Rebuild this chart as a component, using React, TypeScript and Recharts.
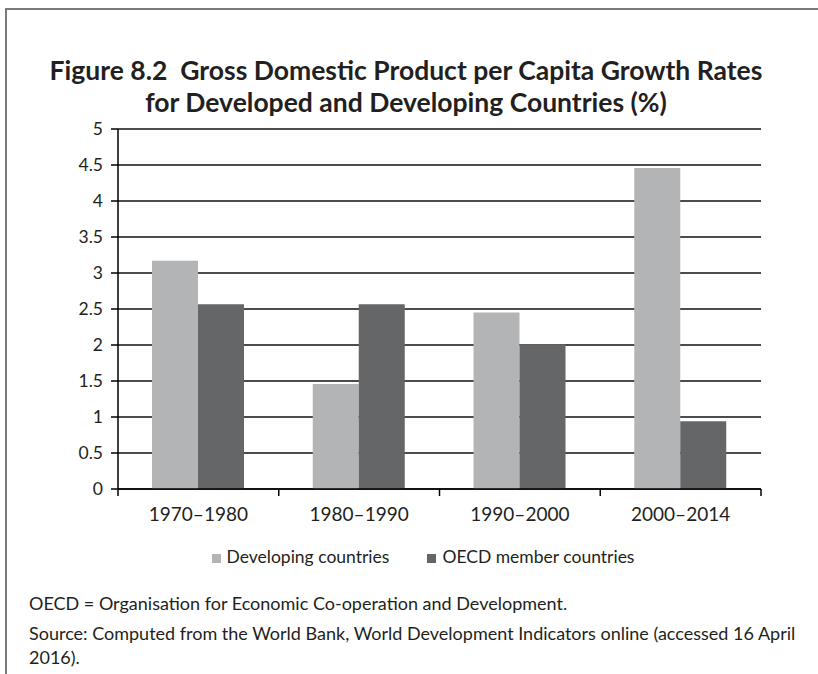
import React from "react";
import { BarChart, Bar, XAxis, YAxis, CartesianGrid, Legend } from "recharts";

// periods on the x axis
const periods = ["1970–1980", "1980–1990", "1990–2000", "2000–2014"];
// GDP per capita growth, %
const developing = [3.17, 1.46, 2.45, 4.46];
const oecd = [2.565, 2.565, 2.01, 0.94];
const yTicks = [0, 0.5, 1, 1.5, 2, 2.5, 3, 3.5, 4, 4.5, 5];

const FONT = "Lato, 'Open Sans', sans-serif";
const INK = "#231f20";
const LIGHT = "#b3b4b6";
const DARK = "#656668";

const PLOT_LEFT = 118;
const PLOT_RIGHT = 761;
const HALF_BAND = (PLOT_RIGHT - PLOT_LEFT) / periods.length / 2;

const data = periods.map((p, i) => ({
  period: p,
  developing: developing[i],
  oecd: oecd[i],
}));

// category label in the middle, tick marks on the band edges
function PeriodTick(props: any) {
  const { x, y, payload, index } = props;
  const isLast = index === periods.length - 1;
  return (
    <g>
      <line x1={x - HALF_BAND} y1={y - 8} x2={x - HALF_BAND} y2={y - 1} stroke="#000" strokeWidth={1.5} />
      {isLast && (
        <line x1={x + HALF_BAND} y1={y - 8} x2={x + HALF_BAND} y2={y - 1} stroke="#000" strokeWidth={1.5} />
      )}
      <text x={x} y={y + 24} textAnchor="middle" fill={INK} fontSize={19} fontFamily={FONT}>
        {payload.value}
      </text>
    </g>
  );
}

export default function App() {
  return (
    <div
      style={{
        position: "absolute",
        left: 0,
        top: 0,
        width: 818,
        height: 674,
        background: "#fff",
        fontFamily: FONT,
        color: INK,
        overflow: "hidden",
      }}
    >
      {/* frame */}
      <div
        style={{
          position: "absolute",
          left: 5,
          top: 8,
          width: 830,
          height: 700,
          borderLeft: "2px solid #7a7a7a",
          borderTop: "2px solid #7a7a7a",
        }}
      />
      <div
        style={{
          position: "absolute",
          left: 0,
          top: 54,
          width: 812,
          textAlign: "center",
          fontWeight: 700,
          fontSize: 26.5,
          lineHeight: "32px",
        }}
      >
        Figure 8.2&nbsp;&nbsp;Gross Domestic Product per Capita Growth Rates
        <br />
        for Developed and Developing Countries (%)
      </div>

      <div style={{ position: "absolute", left: 0, top: 0 }}>
        <BarChart
          width={818}
          height={580}
          data={data}
          margin={{ top: 129, right: 818 - PLOT_RIGHT, left: 0, bottom: 61 }}
          barGap={0}
          barSize={46}
        >
          <CartesianGrid vertical={false} stroke="#111" strokeWidth={1.5} />
          <XAxis
            dataKey="period"
            stroke="#000"
            strokeWidth={1.5}
            tickLine={false}
            height={30}
            tick={<PeriodTick />}
            interval={0}
          />
          <YAxis
            domain={[0, 5]}
            ticks={yTicks}
            width={PLOT_LEFT}
            stroke="#000"
            strokeWidth={1.5}
            tickSize={7}
            tickMargin={8}
            tick={{ fill: INK, fontSize: 17.5, fontFamily: FONT }}
            interval={0}
          />
          <Legend
            layout="horizontal"
            verticalAlign="middle"
            align="center"
            iconType="square"
            iconSize={9}
            wrapperStyle={{ left: 192, top: 546, width: 500, fontSize: 17.5, textAlign: "left" }}
            formatter={(value: string) => (
              <span style={{ color: INK, paddingLeft: 2, marginRight: 28 }}>{value}</span>
            )}
          />
          <Bar dataKey="developing" name="Developing countries" fill={LIGHT} isAnimationActive={false} />
          <Bar dataKey="oecd" name="OECD member countries" fill={DARK} isAnimationActive={false} />
        </BarChart>
      </div>

      <div style={{ position: "absolute", left: 29, top: 591, fontSize: 18, lineHeight: "24px" }}>
        <div>OECD = Organisation for Economic Co-operation and Development.</div>
        <div style={{ marginTop: 6 }}>
          Source: Computed from the World Bank, World Development Indicators online (accessed 16 April
          <br />
          2016).
        </div>
      </div>
    </div>
  );
}
